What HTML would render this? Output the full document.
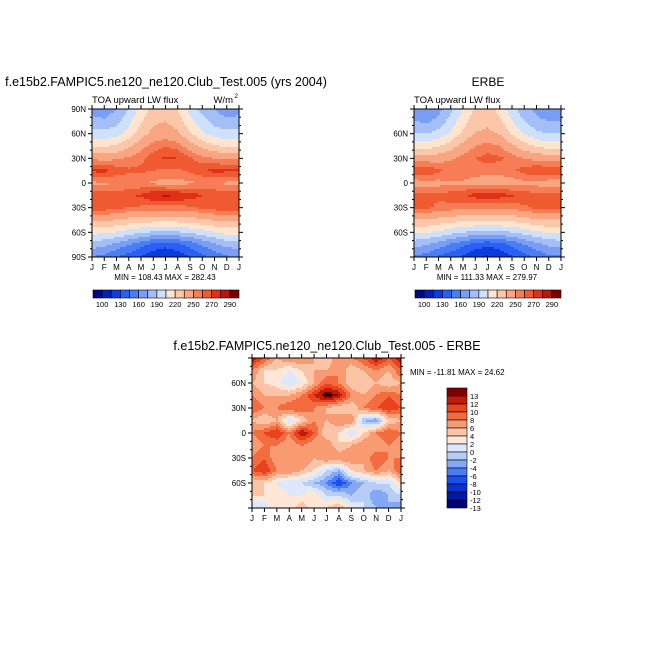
<!DOCTYPE html>
<html><head><meta charset="utf-8">
<style>
html,body{margin:0;padding:0;background:#fff;}
svg{display:block;font-family:"Liberation Sans","DejaVu Sans",sans-serif;}
</style></head>
<body>
<svg id="chart" width="654" height="654" viewBox="0 0 654 654" xmlns="http://www.w3.org/2000/svg">
<rect width="654" height="654" fill="#fff"/>
<text x="166" y="86" font-size="12.5" text-anchor="middle">f.e15b2.FAMPIC5.ne120_ne120.Club_Test.005 (yrs 2004)</text>
<text x="488" y="86" font-size="12" text-anchor="middle">ERBE</text>
<text x="327" y="350" font-size="12.5" text-anchor="middle">f.e15b2.FAMPIC5.ne120_ne120.Club_Test.005 - ERBE</text>
<g id="panels"></g>
</svg>
<script>
const months = ["J","F","M","A","M","J","J","A","S","O","N","D","J"];
const latLabels = ["90N","60N","30N","0","30S","60S","90S"];
const latLabelsShort = ["60N","30N","0","30S","60S"];
const absLevels = [100,115,130,145,160,175,190,205,220,235,250,260,270,280,290];
const absLevelLabels = ["100","130","160","190","220","250","270","290"];
const absColors = ["#000a80","#0022b8","#0a3ce0","#2a5ef5","#4a7ef5","#7a9ef5","#a4bff7","#cfe0fa","#ffe4d0","#fcc6a8","#f9a582","#f67d55","#f05a30","#e0301a","#b8180c","#7a0000"];
const diffLevels = [-13,-12,-10,-8,-6,-4,-2,0,2,4,6,8,10,12,13];
const diffLevelLabels = ["-13","-12","-10","-8","-6","-4","-2","0","2","4","6","8","10","12","13"];
const diffColors = ["#00007a","#0018a8","#0a30d0","#1a50f0","#4a7cf5","#85a8f5","#b6cdf7","#dde9fb","#ffe6d6","#fcc4a6","#f89a72","#f26c40","#e8421e","#c21a08","#800000"];

// rows: 90N,75N,60N,45N,30N,15N,0,15S,30S,45S,60S,75S,90S ; cols: J..J
const modelField = [
[170,165,175,190,210,225,228,220,200,185,175,165,170],
[180,178,185,200,218,232,235,228,210,195,185,180,180],
[195,195,200,212,228,240,242,238,222,208,198,195,195],
[218,218,222,232,245,255,260,255,242,230,222,218,218],
[248,245,248,252,258,265,272,270,262,255,250,248,248],
[272,274,266,262,262,260,258,258,262,268,274,272,272],
[248,248,250,252,252,248,245,245,248,250,250,248,248],
[266,265,265,268,272,280,282,280,276,270,268,266,266],
[268,266,262,260,258,256,256,256,258,262,265,268,268],
[238,238,234,230,228,226,226,226,228,232,236,238,238],
[210,208,204,198,192,188,186,188,192,198,204,210,210],
[182,178,170,160,150,140,135,140,150,162,172,180,182],
[160,155,145,138,130,120,115,120,130,140,150,158,160]];
const obsField = [
[165,160,170,186,206,222,225,216,196,180,170,160,165],
[176,172,180,196,214,228,232,224,206,190,180,175,176],
[192,190,196,208,224,236,238,234,218,204,194,190,192],
[214,214,218,228,240,250,254,250,238,226,218,214,214],
[244,242,244,248,254,260,264,262,256,250,246,244,244],
[268,270,262,258,258,256,254,254,258,264,270,268,268],
[244,244,246,248,248,244,242,242,244,246,246,244,244],
[262,262,262,265,268,275,277,275,272,266,264,262,262],
[264,262,258,256,254,252,252,252,254,258,262,264,264],
[234,234,230,226,224,222,222,222,224,228,232,234,234],
[208,206,202,196,190,186,184,186,190,196,202,208,208],
[180,176,168,158,148,138,133,138,148,160,170,178,180],
[158,153,143,136,128,118,113,118,128,138,148,156,158]];
const diffField = [
[12,8,4,6,6,4,2,6,6,8,12,8,12],
[6,2,2,0,2,4,4,6,2,4,6,4,8],
[4,2,1,-2,0,4,8,6,2,2,4,2,4],
[6,4,4,4,6,10,14,12,6,4,6,8,6],
[8,6,6,8,8,6,4,2,2,6,8,10,8],
[4,2,4,-2,2,6,4,6,6,-4,-6,2,4],
[6,8,10,6,12,8,2,2,-2,2,6,8,6],
[4,6,6,4,6,4,6,2,4,6,4,6,4],
[6,8,4,6,6,4,6,6,6,4,8,6,6],
[8,10,6,6,4,2,-2,-4,2,4,6,4,8],
[2,2,0,-2,-2,-4,-6,-10,-6,-4,-2,-2,2],
[2,2,2,0,0,2,-2,-2,-4,-2,-6,-4,-2],
[-2,-2,2,0,4,0,2,4,0,-2,-4,-4,-6]];

const NS="http://www.w3.org/2000/svg";
const root=document.getElementById('panels');
function mk(tag,attrs,parent){const e=document.createElementNS(NS,tag);for(const k in attrs)e.setAttribute(k,attrs[k]);(parent||root).appendChild(e);return e;}
function colorFor(v,levels,colors){let i=0;while(i<levels.length&&v>=levels[i])i++;return colors[i];}
function sample(f,fx,fy){
  const x0=Math.min(Math.floor(fx),11),y0=Math.min(Math.floor(fy),11);
  const tx=fx-x0,ty=fy-y0;
  const a=f[y0][x0],b=f[y0][x0+1],c=f[y0+1][x0],d=f[y0+1][x0+1];
  return (a*(1-tx)+b*tx)*(1-ty)+(c*(1-tx)+d*tx)*ty;
}
function panel(name,field,x0,y0,w,h,levels,colors,labels){
  const g=mk('g',{});
  
  
  const sx=m=>x0+m/12*w;
  const step=2;
  for(let py=0;py<h;py+=step){
    const fy=Math.min((py+step/2)/h*12,12);
    const rh=Math.min(step,h-py);
    let runStart=0,runCol=null;
    const flush=(end)=>{
      const r=mk('rect',{x:x0+runStart,y:y0+py,width:end-runStart+0.4,height:rh+0.4,fill:runCol},g);
      
      
    };
    for(let px=0;px<w;px+=step){
      const fx=Math.min((px+step/2)/w*12,12);
      const col=colorFor(sample(field,fx,fy),levels,colors);
      if(col!==runCol){
        if(runCol!==null)flush(px);
        runStart=px;runCol=col;
      }
    }
    flush(w);
  }
  const fr=mk('rect',{x:x0,y:y0,width:w,height:h,fill:'none',stroke:'#000','stroke-width':1},g);
  
  
  months.forEach((m,i)=>{
    const x=sx(i);
    mk('line',{x1:x,y1:y0+h,x2:x,y2:y0+h+4,stroke:'#000'},g);
    mk('line',{x1:x,y1:y0,x2:x,y2:y0-4,stroke:'#000'},g);
    const t=mk('text',{x:x,y:y0+h+13,'font-size':8,'text-anchor':'middle'},g);t.textContent=m;
    
    
  });
  for(let lat=90;lat>=-90;lat-=10){
    const y=y0+(90-lat)/180*h, major=lat%30===0;
    mk('line',{x1:x0,y1:y,x2:x0-(major?4:2),y2:y,stroke:'#000'},g);
    mk('line',{x1:x0+w,y1:y,x2:x0+w+(major?4:2),y2:y,stroke:'#000'},g);
  }
  labels.forEach(l=>{
    let lat=l==="0"?0:parseInt(l)*(l.endsWith('S')?-1:1);
    const y=y0+(90-lat)/180*h;
    const t=mk('text',{x:x0-6,y:y+3,'font-size':8,'text-anchor':'end'},g);t.textContent=l;
    
    
  });
  return g;
}
function hbar(name,x0,y0,w,h,colors,levelLabels){
  const g=mk('g',{});
  
  
  const bw=w/colors.length;
  colors.forEach((c,i)=>{const r=mk('rect',{x:x0+i*bw,y:y0,width:bw,height:h,fill:c,stroke:'#000','stroke-width':0.6},g);
    
    });
  levelLabels.forEach((l,i)=>{const t=mk('text',{x:x0+(1+2*i)*bw,y:y0+h+9,'font-size':7.5,'text-anchor':'middle'},g);t.textContent=l;
    
    });
}
function txt(name,s,x,y,size,anchor){const t=mk('text',{x:x,y:y,'font-size':size,'text-anchor':anchor||'start'});t.textContent=s;
  
  return t;}

panel('model-lw-flux-map',modelField,92,109,147,148,absLevels,absColors,latLabels);
txt('model-subtitle','TOA upward LW flux',92,103,9.5);
const u=txt('units-label','W/m',238,103,9.5,'end');u.setAttribute('dx','-5');
txt('units-superscript','2',238,98,6.5,'end');
txt('model-minmax','MIN = 108.43  MAX = 282.43',165,280,8,'middle');
hbar('model-colorbar',93,290,146,8,absColors,absLevelLabels);

panel('obs-lw-flux-map',obsField,414,109,147,148,absLevels,absColors,latLabelsShort);
txt('obs-subtitle','TOA upward LW flux',414,103,9.5);
txt('obs-minmax','MIN = 111.33  MAX = 279.97',487,280,8,'middle');
hbar('obs-colorbar',415,290,146,8,absColors,absLevelLabels);

panel('diff-lw-flux-map',diffField,252,358,149,150,diffLevels,diffColors,latLabelsShort);
txt('diff-minmax','MIN = -11.81  MAX =  24.62',410,375,8);
(function(){
  const g=mk('g',{});
  
  
  const x0=447,y0=388,w=20,h=120,n=diffColors.length,bh=h/n;
  diffColors.slice().reverse().forEach((c,i)=>{const r=mk('rect',{x:x0,y:y0+i*bh,width:w,height:bh,fill:c,stroke:'#000','stroke-width':0.6},g);
    
    });
  diffLevelLabels.slice().reverse().forEach((l,i)=>{const t=mk('text',{x:x0+w+3,y:y0+(i+1)*bh+3,'font-size':7.5},g);t.textContent=l;
    
    });
})();
</script>
</body></html>
